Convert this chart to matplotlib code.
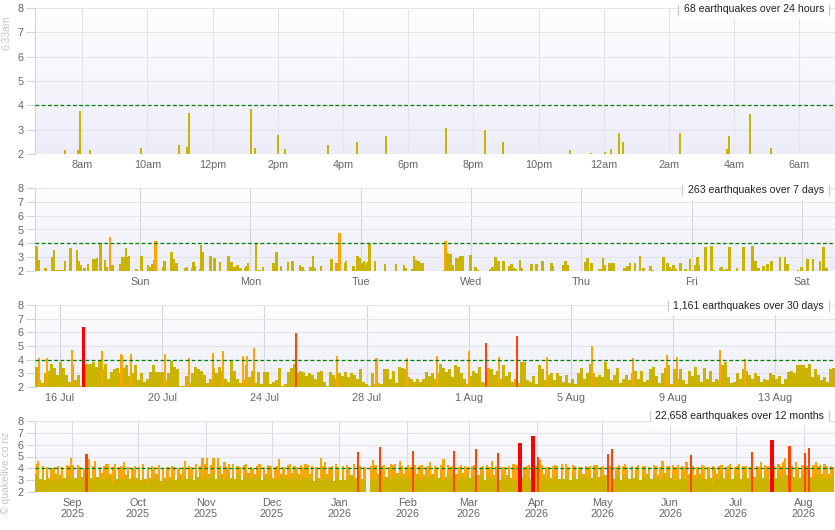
import numpy as np
import matplotlib.pyplot as plt
from matplotlib.colors import LinearSegmentedColormap
from matplotlib.lines import Line2D
from datetime import date

plt.rcParams['font.family'] = ['Liberation Sans', 'DejaVu Sans']

# ---- 24 hours (hours after midnight of the first day) ----
day_hour = [7.48, 7.87, 7.94, 8.25, 9.81, 10.98, 11.22, 11.28, 13.18, 13.31, 14.0, 14.23,
            15.55, 16.44, 17.32, 19.16, 20.36, 20.91, 22.97, 23.61, 24.04, 24.23, 24.47,
            24.6, 26.34, 27.79, 27.85, 28.48, 29.13]
day_mag = [2.15, 2.15, 3.75, 2.15, 2.25, 2.35, 2.3, 3.68, 3.85, 2.25, 2.8, 2.2,
           2.35, 2.5, 2.75, 3.05, 3.0, 2.5, 2.15, 2.05, 2.1, 2.2, 2.85,
           2.5, 2.85, 2.2, 2.75, 3.65, 2.25]
day_ticks = [8, 10, 12, 14, 16, 18, 20, 22, 24, 26, 28, 30]
day_labels = ['8am', '10am', '12pm', '2pm', '4pm', '6pm', '8pm', '10pm', '12am', '2am', '4am', '6am']

# ---- 7 days (days, Sun = 1) ----
week_day = [0.054, 0.063, 0.081, 0.145, 0.208, 0.22, 0.238, 0.26, 0.29, 0.305, 0.32, 0.371,
            0.429, 0.444, 0.459, 0.498, 0.529, 0.574, 0.592, 0.61, 0.643, 0.683, 0.698, 0.728,
            0.752, 0.819, 0.843, 0.855, 0.873, 0.885, 0.9, 0.97, 1.015, 1.073, 1.088, 1.109,
            1.127, 1.142, 1.209, 1.224, 1.287, 1.302, 1.332, 1.411, 1.426, 1.477, 1.484, 1.493,
            1.544, 1.553, 1.568, 1.638, 1.677, 1.725, 1.801, 1.831, 1.855, 1.882, 1.913, 1.952,
            1.967, 1.979, 2.052, 2.082, 2.115, 2.209, 2.239, 2.278, 2.342, 2.384, 2.451, 2.475,
            2.487, 2.541, 2.559, 2.568, 2.587, 2.641, 2.738, 2.783, 2.81, 2.859, 2.868, 2.934,
            2.943, 2.97, 2.995, 3.013, 3.031, 3.046, 3.064, 3.082, 3.131, 3.221, 3.321, 3.393,
            3.412, 3.466, 3.484, 3.502, 3.526, 3.542, 3.56, 3.759, 3.771, 3.789, 3.817, 3.835,
            3.871, 3.889, 3.907, 3.922, 3.998, 4.043, 4.064, 4.173, 4.194, 4.224, 4.252, 4.297,
            4.351, 4.37, 4.391, 4.409, 4.445, 4.46, 4.551, 4.593, 4.651, 4.732, 4.744, 4.841,
            4.859, 4.874, 5.034, 5.056, 5.092, 5.164, 5.18, 5.198, 5.213, 5.252, 5.273, 5.294,
            5.391, 5.406, 5.421, 5.442, 5.488, 5.533, 5.563, 5.63, 5.645, 5.745, 5.781, 5.802,
            5.82, 5.835, 5.859, 5.902, 5.944, 5.986, 6.035, 6.053, 6.068, 6.128, 6.18, 6.198,
            6.261, 6.274, 6.301, 6.319, 6.334, 6.346, 6.413, 6.47, 6.555, 6.582, 6.606, 6.654,
            6.688, 6.727, 6.802, 6.848, 6.869, 6.963, 6.999, 7.053, 7.102, 7.165, 7.195, 7.222]
week_mag = [2.3, 3.8, 2.8, 2.2, 3.0, 3.5, 2.1, 2.1, 2.1, 2.1, 2.75, 3.65,
            3.5, 2.7, 2.45, 2.25, 2.5, 2.9, 2.85, 2.95, 3.98, 2.8, 2.3, 4.45,
            2.45, 2.5, 3.0, 3.0, 3.65, 3.0, 3.1, 2.15, 3.1, 2.45, 2.3, 2.5,
            2.8, 4.15, 2.3, 2.75, 3.4, 2.9, 2.6, 2.2, 2.3, 2.2, 2.65, 2.35,
            2.15, 3.85, 3.35, 3.05, 2.95, 2.65, 3.1, 2.65, 2.3, 2.45, 2.2, 2.2,
            2.35, 2.6, 3.98, 2.1, 2.3, 2.6, 3.4, 2.35, 2.65, 2.75, 2.45, 2.3,
            2.1, 2.3, 2.3, 3.05, 2.2, 2.35, 2.9, 2.6, 4.75, 2.6, 2.75, 2.35,
            2.1, 3.05, 2.95, 2.6, 2.75, 2.45, 2.65, 3.98, 2.75, 2.5, 2.5, 2.4,
            2.2, 2.15, 3.1, 2.8, 2.7, 2.6, 2.6, 2.05, 4.2, 3.3, 3.2, 2.45,
            2.95, 2.95, 3.05, 3.1, 3.15, 2.3, 2.1, 2.15, 2.3, 3.0, 2.7, 2.7,
            2.35, 2.5, 2.2, 2.15, 2.8, 2.2, 2.5, 2.5, 2.75, 2.55, 2.35, 2.4,
            2.75, 2.45, 2.65, 2.95, 2.6, 2.15, 2.15, 2.95, 2.4, 2.6, 2.6, 2.55,
            2.25, 2.2, 2.35, 2.55, 2.6, 3.05, 2.2, 2.35, 2.1, 3.0, 2.55, 2.3,
            2.15, 2.4, 2.15, 2.6, 2.15, 2.85, 2.45, 3.0, 2.4, 3.7, 3.8, 2.1,
            2.25, 2.3, 2.1, 2.15, 2.15, 3.7, 2.2, 3.7, 3.8, 2.7, 2.2, 2.35,
            2.5, 2.7, 3.0, 3.0, 2.5, 2.1, 2.3, 2.85, 2.85, 2.75, 3.7, 2.2]
week_labels = ['Sun', 'Mon', 'Tue', 'Wed', 'Thu', 'Fri', 'Sat']

# ---- 30 days (days after 16 Jul): background level per ~3 h, plus M4+ events ----
month_base = """
35 25 23 30 32 37 34 29 38 34 29 24 36 25 29 21 36 37 37 38 35 39 33 37 26 31 33 34 30 34
36 28 30 36 25 30 24 26 31 36 31 31 31 25 30 39 35 33 21 21 28 23 30 35 33 32 29 23 26 34
30 35 32 26 24 39 32 26 23 25 36 27 32 23 31 22 31 31 22 24 25 34 21 22 31 34 37 30 32 31
28 30 29 26 31 32 24 21 31 29 26 30 28 31 27 30 29 26 33 24 22 21 30 22 23 22 33 33 26 32
23 35 34 33 27 26 24 26
24 26 31 28 30 26 30 37 34 31 33 27 36 35 30 26 22 28 32 30 35 24 23 34 33 29 32 26 36 28
31 24 26 23 38 38 25 24 28 22 36 33 25 29 30 25 30 28 24 29 23 26 22 30 34 26 30 37 30 27
29 27 38 33 25 29 34 23 26 29 25 30 32 26 32 24 25 33 35 28 23 30 34 36 22 33 26 33 25 22
32 28 35 29 24 34 26 32 24 26 25 36 38 27 23 24 30 26 33 32 29 26 30 28 24 26 25 30 29 26
28 22 26 31 32 30 36 36 36 34 37 27 33 29 25 27 24 33 34
"""
month_peak_day = [-0.82, -0.52, 0.46, 0.91, 1.63, 2.37, 2.43, 2.77, 4.10, 5.05, 5.98, 6.37,
                  7.15, 7.31, 7.59, 9.22, 10.84, 12.35, 12.39, 13.57, 14.76, 16.01, 16.66,
                  17.18, 17.87, 19.06, 20.81, 22.41, 23.74, 24.16, 25.82, 26.81]
month_peak_mag = [4.1, 4.15, 4.7, 6.4, 4.65, 4.45, 4.35, 4.45, 4.45, 4.1, 4.5, 4.6,
                  4.25, 4.3, 4.85, 5.95, 4.3, 4.1, 4.15, 4.1, 4.3, 4.65, 5.2,
                  4.2, 5.7, 4.2, 4.98, 4.15, 4.35, 4.2, 4.7, 4.07]
month_ticks = [0, 4, 8, 12, 16, 20, 24, 28]
month_labels = ['16 Jul', '20 Jul', '24 Jul', '28 Jul', '1 Aug', '5 Aug', '9 Aug', '13 Aug']

# ---- 12 months, one value per day from 15 Aug 2025 (tenths of magnitude) ----
# year_base: level reached by the M<4 quakes, year_top: largest M4+ quake (00 = none)
year_base = """
35 33 31 36 30 34 32 29 33 35 31 34 30 32 36 33 31 34 32 35 30 33 36 31 34 32 29 35 33 31
36 30 34 32 35 28 33 31 35 32 30 34 36 31 33 29 32 35 30 33 31 28 32 30 33 35 31 29 33 32
29 33 31 34 30 32 35 30 33 31 34 32 30 35 33 36 31 34 32 35 33 36 31 34 32 35 30 33 36 32
34 31 35 33 30 34 32 36 31 33 35 32 34 30 33 35 31 34 32 30 33 31 35 32 34 29 33 36 31 33
35 30 34 32 33 35 31 29 33 32 30 34 32 35 31 33 29 32 34 30 32 30 33 31 34 29 32 30 33 31
30 00 00 29 33 31 35 32 34 30 33 35 31 34 32 36 33 31 35 32 34 32 36 31 35 33 30 34 36 32
33 35 31 34 32 36 30 33 35 31 34 32 35 30 33 36 31 34 32 35 33 31 34 36 32 30 35 33 31 34
32 35 30 33 31 34 36 32 29 33 31 34 32 35 30 33 31 35 32 34 30 33 35 31 34 32 29 33 35 31
33 31 34 32 30 35 33 31 34 32 35 33 31 34 32 36 30 33 35 31 34 32 36 33 31 35 33 30 34 32
35 31 34 32 36 33 30 34 32 35 33 31 35 32 34 30 33 36 31 34 32 35 30 33 31 34 32 29 35 33
31 34 32 35 30 33 31 34 32 28 33 35 31 34 32 30 35 33 31 34 33 35 31 34 36 32 30 35 33 31
34 36 32 35 33 31 34 36 32 35 33 31 35 34 32 36 33 31 35 32 34 36 32 35 33 31 36 34 32 35
33 31 35 32 34
"""
year_top = """
44 46 00 42 00 41 00 40 41 00 42 00 41 00 43 42 49 43 00 43 41 00 40 52 48 00 42 46 00 41
00 42 44 44 00 41 44 00 41 42 45 00 41 00 40 42 00 41 00 44 00 41 00 42 41 00 43 00 40 00
41 00 42 41 00 40 00 41 46 00 42 41 00 44 00 42 49 44 49 00 43 49 00 49 42 00 45 41 44 00
44 00 42 41 00 43 44 00 41 40 00 42 44 00 41 00 43 42 00 41 42 48 00 41 00 43 44 00 42 41
00 43 41 44 43 00 42 00 41 00 49 42 45 00 41 42 00 44 41 00 42 00 43 41 00 44 00 54 42 00
41 00 00 42 47 43 00 58 42 43 00 41 44 43 44 00 46 42 00 41 43 41 55 43 00 42 43 00 41 42
45 00 42 41 00 43 48 00 43 41 42 55 00 41 43 00 42 41 00 42 43 56 00 41 42 00 43 41 46 00
42 53 00 41 41 00 42 00 44 43 42 61 00 41 42 43 00 67 42 50 47 43 00 41 41 00 42 43 42 00
44 00 44 41 00 43 42 00 41 41 00 42 41 42 00 43 43 00 41 42 00 52 42 56 00 41 43 00 42 44
41 00 42 00 41 43 00 42 42 00 41 00 43 42 00 41 46 00 42 42 00 43 41 43 00 42 41 45 00 51
42 00 41 00 43 42 00 41 00 42 41 00 42 43 00 41 42 44 00 41 42 44 00 42 42 00 41 54 00 42
41 45 00 43 42 00 64 42 00 44 42 45 49 00 59 42 00 45 41 00 43 53 42 57 00 43 45 42 43 00
44 42 00 42 41
"""
year_start = date(2025, 8, 15)
year_months = [(2025, 9), (2025, 10), (2025, 11), (2025, 12), (2026, 1), (2026, 2), (2026, 3),
               (2026, 4), (2026, 5), (2026, 6), (2026, 7), (2026, 8)]

titles = ['68 earthquakes over 24 hours', '263 earthquakes over 7 days',
          '1,161 earthquakes over 30 days', '22,658 earthquakes over 12 months']

YELLOW = '#cbb400'
GRID = '#e4e4ea'
AXIS = '#ccd6eb'
LABEL = '#666666'
bg = LinearSegmentedColormap.from_list('bg', ['#fefeff', '#ededf9'])


def colour(m):
    if m >= 6:
        return '#ff0000'
    if m >= 5:
        return '#ff4500'
    if m >= 4:
        return '#ffa500'
    return YELLOW


def tenths(s):
    return np.array([int(t) / 10 for t in s.split()])


def setup(ax, xlim, ticks, labels, vgrid):
    ax.imshow(np.linspace(0, 1, 64)[:, None], extent=[0, 1, 0, 1], transform=ax.transAxes,
              aspect='auto', cmap=bg, zorder=0)
    ax.set_xlim(*xlim)
    ax.set_ylim(2, 8)
    ax.set_yticks(range(2, 9))
    ax.set_xticks(ticks)
    ax.set_xticklabels(labels)
    ax.set_axisbelow(True)
    ax.grid(axis='y', color=GRID, lw=0.8)
    ax.grid(axis='x', color=vgrid, lw=0.8)
    for s in ['top', 'right', 'bottom']:
        ax.spines[s].set_visible(False)
    ax.spines['left'].set_color(AXIS)
    ax.tick_params(axis='y', length=6.5, width=0.8, color=AXIS, pad=1.5,
                   labelsize=7.8, labelcolor=LABEL)
    ax.tick_params(axis='x', length=0, pad=4.5, labelsize=7.8, labelcolor=LABEL)
    ax.axhline(4, color='#008000', ls=(0, (3, 2)), lw=0.9, zorder=5)


fig = plt.figure(figsize=(8.35, 5.3), dpi=100)
W, H = 835, 530
boxes = [(8, 154), (188, 271), (305, 387), (421, 492)]
axes = [fig.add_axes([35 / W, 1 - b / H, 800 / W, (b - t) / H]) for t, b in boxes]

# 24 hours
ax = axes[0]
setup(ax, (6.55, 31.09), day_ticks, day_labels, GRID)
ax.bar(day_hour, np.array(day_mag) - 2, bottom=2, width=0.065,
       color=[colour(m) for m in day_mag], lw=0, zorder=3)

# 7 days
ax = axes[1]
setup(ax, (0.048, 7.30), range(1, 8), week_labels, '#d6d6dc')
ax.bar(week_day, np.array(week_mag) - 2, bottom=2, width=0.024,
       color=[colour(m) for m in week_mag], lw=0, zorder=3)

# 30 days
ax = axes[2]
setup(ax, (-0.98, 30.33), month_ticks, month_labels, '#d6d6dc')
mb = tenths(month_base)
step = 31.31 / len(mb)
ax.bar(-0.98 + (np.arange(len(mb)) + 0.5) * step, mb - 2, bottom=2, width=step,
       color=YELLOW, lw=0, zorder=3)
ax.bar(month_peak_day, np.array(month_peak_mag) - 2, bottom=2,
       width=[0.13 if m >= 6 else 0.08 for m in month_peak_mag],
       color=[colour(m) for m in month_peak_mag], lw=0, zorder=4)

# 12 months
ax = axes[3]
mticks = [(date(y, m, 1) - year_start).days for y, m in year_months]
mlabels = [date(y, m, 1).strftime('%b') + '\n' + str(y) for y, m in year_months]
setup(ax, (0, 365.3), mticks, mlabels, '#dcdce2')
for t in ax.get_xticklabels():
    t.set_linespacing(1.05)
yb = tenths(year_base)
yt = tenths(year_top)
days = np.arange(len(yb)) + 0.5
has = yb > 0
ax.bar(days[has], yb[has] - 2, bottom=2, width=1.0, color=YELLOW, lw=0, zorder=3)
orange = (yt >= 4) & (yt < 5)
big = yt >= 5
ax.bar(days[orange], yt[orange] - 2, bottom=2, width=1.0, color='#ffa500', lw=0, zorder=2.5)
ax.bar(days[big], yt[big] - 2, bottom=2, width=[1.8 if m >= 6 else 1.0 for m in yt[big]],
       color=[colour(m) for m in yt[big]], lw=0, zorder=4)

# titles with separators
offsets = [-1.5, -2, -1, 5]
texts = []
for ax, title, dy in zip(axes, titles, offsets):
    t = ax.annotate(title, xy=(1, 1), xycoords='axes fraction', xytext=(-11, dy),
                    textcoords='offset pixels', ha='right', va='center', fontsize=7.6,
                    color='#222222', zorder=7,
                    bbox=dict(fc='white', ec='none', pad=3.5))
    texts.append(t)

fig.text(6.5 / W, 1 - 33 / H, '6:33am', rotation=90, ha='center', va='center',
         fontsize=7.5, color='#c4c4c8')
fig.text(6.5 / W, 1 - 473 / H, '\u00a9 quakelive.co.nz', rotation=90, ha='center',
         va='center', fontsize=7.5, color='#c4c4c8')

fig.canvas.draw()
r = fig.canvas.get_renderer()
for t in texts:
    bb = t.get_window_extent(r)
    cy = (bb.y0 + bb.y1) / 2
    for x in (bb.x0 - 5.5, bb.x1 + 5):
        fig.add_artist(Line2D([x / W, x / W], [(cy - 5) / H, (cy + 5) / H],
                              color='#cccccc', lw=0.9, zorder=8))

fig.savefig('out.png', dpi=100)
